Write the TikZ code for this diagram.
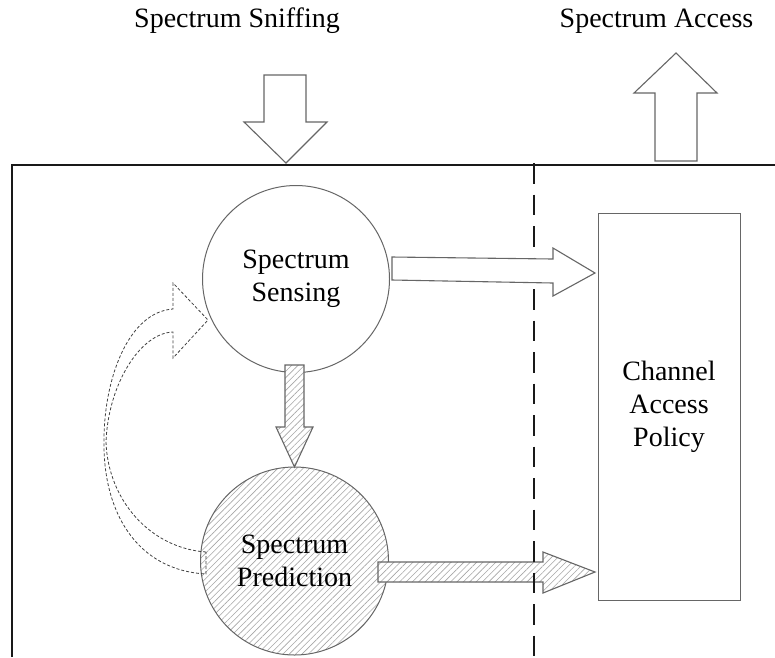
\documentclass[tikz,border=0pt]{standalone}
\usepackage{fontspec}
\setmainfont{Liberation Serif}
\usetikzlibrary{patterns.meta}

\begin{document}
\begin{tikzpicture}[x=1pt,y=-1pt,
  lbl/.style={font=\fontsize{28}{33}\selectfont, align=center, inner sep=0pt},
  frameline/.style={line width=2.4pt, draw=black!90},
  partline/.style={line width=2.4pt, draw=black!90, dash pattern=on 20.5pt off 11pt},
  outline/.style={draw=black!60, line width=1pt},
  blockarrow/.style={draw=black!60, line width=1.1pt, line join=miter, fill=white},
  hatched/.style={pattern={Lines[angle=45,distance=4.5pt,line width=0.6pt]}, pattern color=black!35},
  hatcharrow/.style={draw=black!60, line width=1.1pt, line join=miter,
    preaction={fill=white}, hatched},
  loopback/.style={draw=black!75, line width=0.8pt, dash pattern=on 3pt off 2pt}
]
\useasboundingbox (0,0) rectangle (775,657);

% outer boundary of the node
\draw[frameline] (12,657) -- (12,165) -- (775,165);

% incoming and outgoing block arrows
\draw[blockarrow] (264,75) -- (306,75) -- (306,122) -- (327,122) -- (286,163)
  -- (244,122) -- (264,122) -- cycle;
\draw[blockarrow] (655,161) -- (697,161) -- (697,93) -- (717,93) -- (676,53)
  -- (634,93) -- (655,93) -- cycle;

\node[lbl, anchor=base] (sniff) at (237,27) {Spectrum Sniffing};
\node[lbl, anchor=base] (access) at (656.5,27) {Spectrum Access};

% functional blocks
\node[circle, outline, fill=white, minimum size=187pt, lbl] (sense) at (296,279)
  {Spectrum\\Sensing};
\node[circle, outline, minimum size=188pt, lbl, preaction={fill=white}, hatched]
  (predict) at (294.5,561) {Spectrum\\Prediction};
\node[rectangle, outline, minimum width=142pt, minimum height=387pt, lbl]
  (policy) at (669,406.5) {Channel\\Access\\Policy};

% sensing feeds prediction
\draw[hatcharrow] (285,365) -- (304,365) -- (304,427) -- (313,427) -- (294.5,467)
  -- (276,427) -- (285,427) -- cycle;

% prediction feeds the access policy
\draw[hatcharrow] (378,562) -- (543,562) -- (543,552) -- (595,572) -- (543,593)
  -- (543,582) -- (378,582) -- cycle;

% partition between sensing side and access side
\draw[partline] (534,163) -- (534,657);

% sensing feeds the access policy
\draw[blockarrow] (392,257) -- (553,259) -- (553,248) -- (595,273) -- (553,296)
  -- (553,283) -- (392,280) -- cycle;

% feedback from prediction back into sensing
\draw[loopback] (206,552) .. controls (150,548) and (108,500) .. (106,442)
  .. controls (108,385) and (140,333) .. (173,332) -- (173,358) -- (208,320)
  -- (173,283) -- (173,309) .. controls (128,312) and (103,380) .. (104,445)
  .. controls (104,510) and (135,570) .. (206,574) -- cycle;
\end{tikzpicture}
\end{document}
